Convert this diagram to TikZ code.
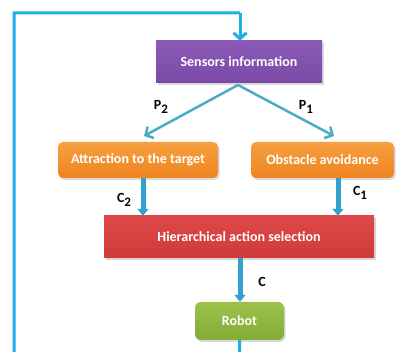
\documentclass[tikz,border=0pt]{standalone}
\usepackage{fontspec}
\setmainfont{Carlito}
\usetikzlibrary{arrows.meta,shadows,calc}
\definecolor{fbblue}{HTML}{1DAEE4}
\definecolor{teal1}{HTML}{4BACC6}
\definecolor{thickblue}{HTML}{31A2CC}
\definecolor{purp}{HTML}{7B4AA6}
\definecolor{purpT}{HTML}{8A5AB6}
\definecolor{orng}{HTML}{EE8420}
\definecolor{orngT}{HTML}{F7A040}
\definecolor{redb}{HTML}{CF3A3A}
\definecolor{redbT}{HTML}{DE4848}
\definecolor{grn}{HTML}{83AB35}
\definecolor{grnT}{HTML}{9CC24A}
\tikzset{
  box/.style={draw=none, text=white, font=\bfseries\fontsize{14}{16}\selectfont, align=center,
    inner sep=0pt, drop shadow={shadow xshift=1.5pt, shadow yshift=-2pt, opacity=0.3}},
  feedline/.style={fbblue, line width=3pt},
  diag/.style={teal1, line width=2.5pt, -{Straight Barb[length=6pt,width=13pt,line width=2.5pt]}},
  thick/.style={thickblue, line width=5pt, -{Triangle[length=7pt,width=11pt]}},
  lab/.style={font=\bfseries\fontsize{14}{16}\selectfont, text=black}
}
\newcommand{\mysub}[1]{\raisebox{-3.5pt}{\fontsize{13}{15}\selectfont #1}}
\begin{document}
\begin{tikzpicture}[x=1pt,y=1pt]
\useasboundingbox (0,0) rectangle (399,352);
\fill[white] (0,0) rectangle (399,352);
\clip (0,0) rectangle (399,352);
\node[box, top color=purpT, bottom color=purp, minimum width=166pt, minimum height=42pt] (sens) at (239,290) {Sensors information};
\node[box, top color=orngT, bottom color=orng, rounded corners=5pt, minimum width=160pt, minimum height=36pt] (attr) at (138,192) {Attraction to the target};
\node[box, top color=orngT, bottom color=orng, rounded corners=5pt, minimum width=143pt, minimum height=36pt] (obst) at (322.5,192) {Obstacle avoidance};
\node[box, top color=redbT, bottom color=redb, minimum width=270pt, minimum height=42pt] (hier) at (239,115) {Hierarchical action selection};
\node[box, top color=grnT, bottom color=grn, rounded corners=6pt, minimum width=89pt, minimum height=38pt] (robot) at (239.5,31) {Robot};
% feedback
\coordinate (fb1) at (240,-20);
\coordinate (fb2) at (14,-20);
\coordinate (fbtop) at (14,339);
\coordinate (fbr) at (240,339);
\draw[feedline] (robot.south) -- (fb1) -- (fb2) -- (fbtop) -- (fbr);
\draw[feedline, -{Straight Barb[length=6pt,width=13pt,line width=3pt]}] (fbr) -- (sens.north -| fbr);
% diagonals
\coordinate (apex) at (238,267);
\coordinate (lend) at (144,216);
\coordinate (rend) at (334,216);
\draw[diag] (apex) -- (lend);
\draw[diag] (apex) -- (rend);
% thick arrows
\draw[thick] (attr.south -| 143,0) -- (hier.north -| 143,0);
\draw[thick] (obst.south -| 338,0) -- (hier.north -| 338,0);
\draw[thick] (hier.south -| 240,0) -- (robot.north -| 240,0);
% labels
\node[lab] (p2) at (161,245) {P\mysub{2}};
\node[lab] (p1) at (306,245) {P\mysub{1}};
\node[lab] (c2) at (124,152) {C\mysub{2}};
\node[lab] (c1) at (360,159) {C\mysub{1}};
\node[lab] (c) at (262,70) {C};
\end{tikzpicture}
\end{document}
